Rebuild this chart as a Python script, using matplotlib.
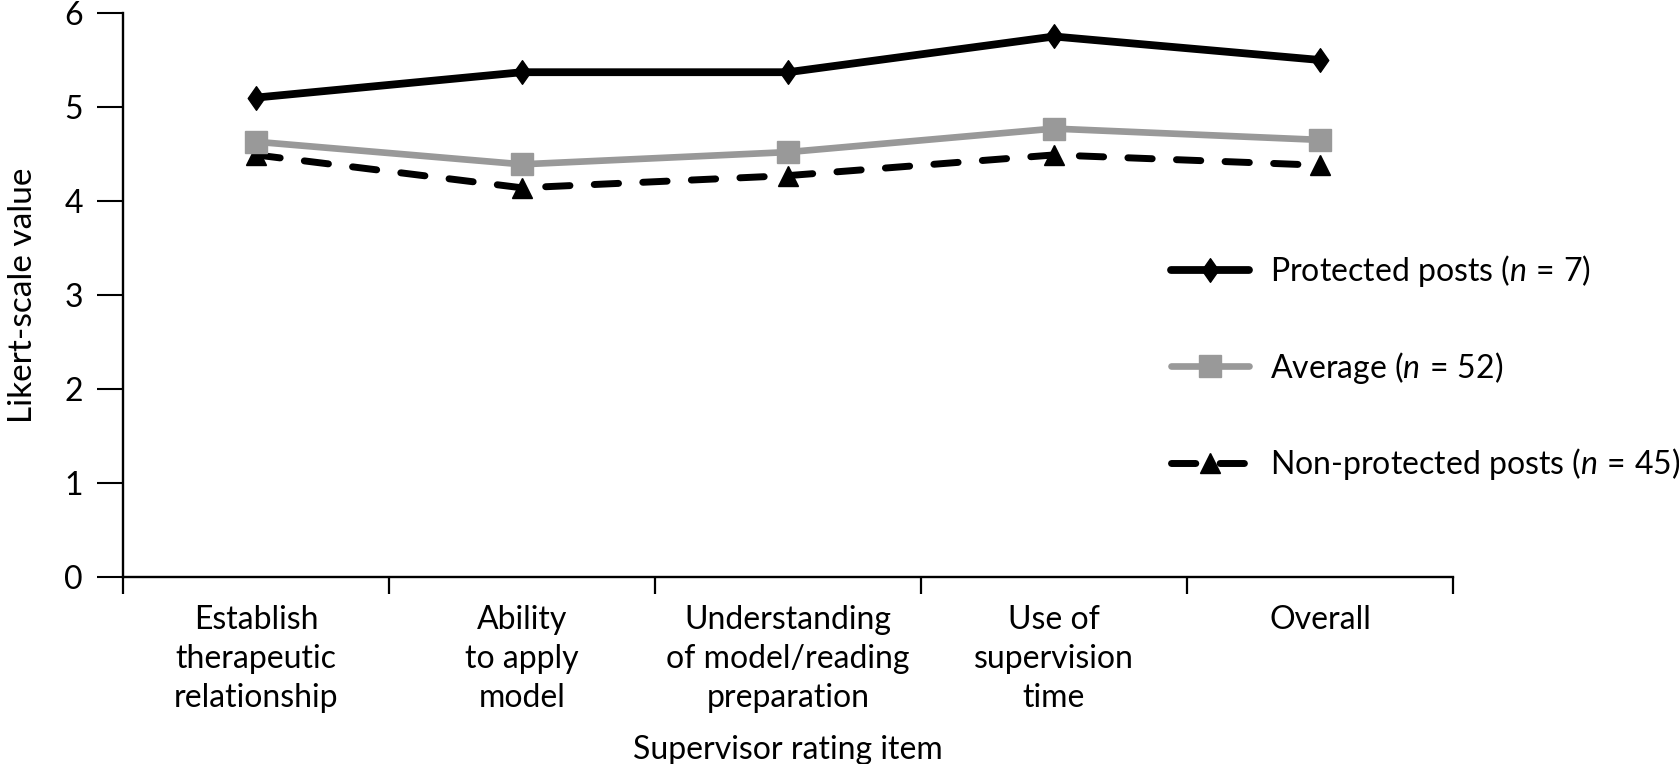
import matplotlib
matplotlib.use("Agg")
import matplotlib.pyplot as plt
from matplotlib.path import Path

categories = ["Establish\ntherapeutic\nrelationship", "Ability\nto apply\nmodel",
              "Understanding\nof model/reading\npreparation", "Use of\nsupervision\ntime", "Overall"]
protected = [5.10, 5.37, 5.37, 5.75, 5.50]
average = [4.63, 4.39, 4.52, 4.77, 4.65]
nonprotected = [4.49, 4.14, 4.27, 4.49, 4.38]
labels = [r"Protected posts ($n\,{=}\,7$)", r"Average ($n\,{=}\,52$)",
          r"Non-protected posts ($n\,{=}\,45$)"]
yticks = [0, 1, 2, 3, 4, 5, 6]

fam = "Lato"
plt.rcParams['font.family'] = [fam, 'DejaVu Sans']
plt.rcParams['mathtext.fontset'] = 'custom'
plt.rcParams['mathtext.rm'] = fam
plt.rcParams['mathtext.it'] = fam + ':italic'

FS = 23
fig = plt.figure(figsize=(16.79, 7.64), dpi=100)
ax = fig.add_axes([0.0733, 0.2448, 0.7921, 0.7382])

diamond = Path([(0, 1), (0.7, 0), (0, -1), (-0.7, 0), (0, 1)],
               [Path.MOVETO, Path.LINETO, Path.LINETO, Path.LINETO, Path.CLOSEPOLY])

x = list(range(len(categories)))
ax.plot(x, protected, color='black', lw=5.6, marker=diamond, ms=17, label=labels[0],
        solid_capstyle='round', zorder=3)
ax.plot(x, average, color='#999999', lw=4.8, marker='s', ms=16, label=labels[1],
        solid_capstyle='round', zorder=2)
ax.plot(x, nonprotected, color='black', lw=5.0, marker='^', ms=15, dashes=(3.5, 3.5),
        dash_capstyle='round', label=labels[2], zorder=1)

ax.set_xlim(-0.5, 4.5)
ax.set_ylim(0, 6)
ax.set_yticks(yticks)
ax.set_xticks([i + 0.5 for i in range(-1, len(categories))])
ax.set_xticklabels([])
ax.set_xticks(x, minor=True)
ax.tick_params(axis='x', which='minor', length=0, pad=20, labelsize=FS)
ax.tick_params(axis='x', which='major', direction='out', length=12, width=1.6)
ax.tick_params(axis='y', direction='out', length=19, width=1.5, labelsize=FS, pad=10)
ax.set_xticklabels(categories, minor=True, fontsize=FS)
for s in ['top', 'right']:
    ax.spines[s].set_visible(False)
ax.spines['left'].set_linewidth(1.7)
ax.spines['bottom'].set_linewidth(1.7)

ax.set_ylabel("Likert-scale value", fontsize=24)
ax.yaxis.set_label_coords(-0.064, 0.5)
ax.set_xlabel("Supervisor rating item", fontsize=FS)
ax.xaxis.set_label_coords(0.5, -0.281)

leg = fig.legend(loc='upper left', bbox_to_anchor=(0.6974, 0.669), frameon=False,
                 fontsize=23, labelspacing=1.9, handlelength=2.45, handletextpad=0.65,
                 borderpad=0, borderaxespad=0)

for t in ax.get_xticklabels(minor=True):
    t.set_linespacing(1.37)

fig.savefig("out.png", dpi=100)
